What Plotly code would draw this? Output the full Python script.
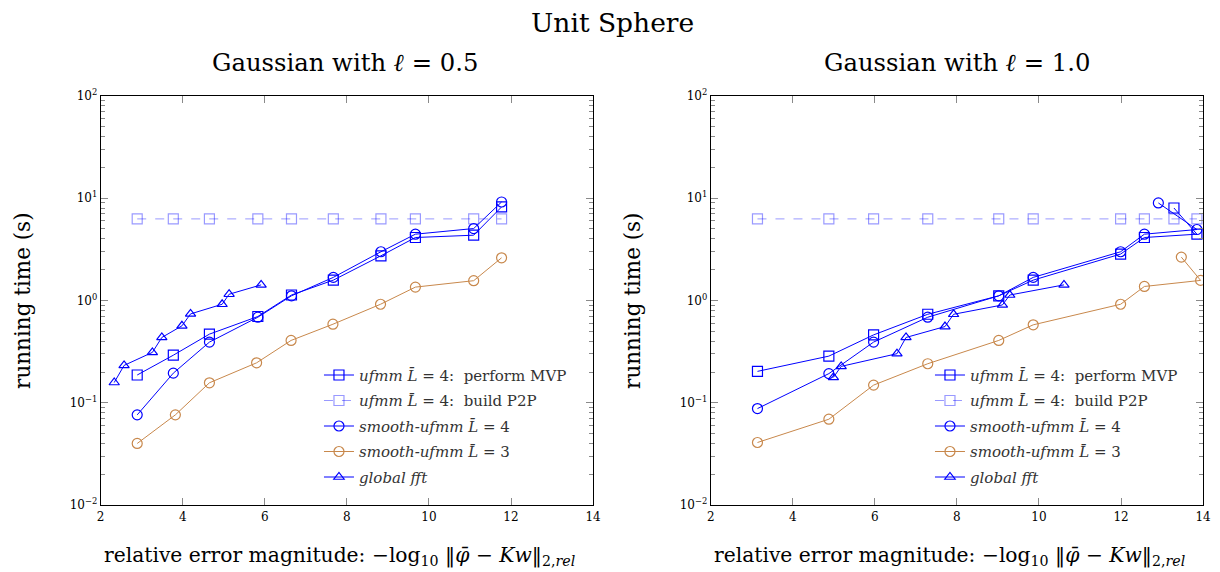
import plotly.graph_objects as go

# ---------------- data ----------------
# Left panel: Gaussian with l = 0.5
L_mvp_x = [2.89, 3.77, 4.65, 5.83, 6.65, 7.67, 8.83, 9.67, 11.09, 11.77]
L_mvp_y = [0.187, 0.292, 0.469, 0.697, 1.13, 1.58, 2.73, 4.12, 4.34, 8.19]
L_p2p_x = [2.89, 3.77, 4.65, 5.83, 6.65, 7.67, 8.83, 9.67, 11.09, 11.77]
L_p2p_y = [6.26, 6.26, 6.26, 6.26, 6.26, 6.26, 6.26, 6.26, 6.26, 6.26]
L_s4_x = [2.89, 3.77, 4.65, 5.83, 6.65, 7.67, 8.83, 9.67, 11.09, 11.77]
L_s4_y = [0.0763, 0.195, 0.392, 0.686, 1.11, 1.68, 2.99, 4.44, 5.04, 9.16]
L_s3_x = [2.89, 3.82, 4.65, 5.80, 6.64, 7.66, 8.82, 9.67, 11.09, 11.77]
L_s3_y = [0.0401, 0.0763, 0.157, 0.246, 0.407, 0.586, 0.918, 1.35, 1.56, 2.61]
L_fft_x = [2.33, 2.57, 3.26, 3.49, 3.98, 4.19, 4.96, 5.13, 5.91]
L_fft_y = [0.158, 0.232, 0.311, 0.435, 0.565, 0.739, 0.918, 1.15, 1.42]

# Right panel: Gaussian with l = 1.0
R_mvp_x = [3.14, 4.88, 5.97, 7.29, 9.02, 9.86, 11.99, 12.57, 13.85, 13.29]
R_mvp_y = [0.203, 0.286, 0.461, 0.733, 1.11, 1.58, 2.84, 4.12, 4.44, 8.0]
R_p2p_x = [3.14, 4.88, 5.97, 7.29, 9.02, 9.86, 11.99, 12.57, 13.29, 13.85]
R_p2p_y = [6.26, 6.26, 6.26, 6.26, 6.26, 6.26, 6.26, 6.26, 6.26, 6.26]
R_s4_x = [3.14, 4.88, 5.97, 7.29, 9.02, 9.86, 11.99, 12.57, 13.85, 12.91]
R_s4_y = [0.0879, 0.193, 0.392, 0.686, 1.11, 1.68, 2.99, 4.44, 4.93, 8.96]
R_s3_x = [3.14, 4.88, 5.97, 7.29, 9.02, 9.86, 11.99, 12.57, 13.94, 13.47]
R_s3_y = [0.041, 0.0692, 0.149, 0.241, 0.407, 0.578, 0.918, 1.37, 1.57, 2.65]
R_fft_x = [4.99, 5.18, 6.54, 6.76, 7.71, 7.92, 9.11, 9.29, 10.61]
R_fft_y = [0.177, 0.227, 0.302, 0.435, 0.556, 0.733, 0.904, 1.13, 1.42]

series_names = [
    "<i>ufmm</i> <i>L̄</i> = 4:  perform MVP",
    "<i>ufmm</i> <i>L̄</i> = 4:  build P2P",
    "<i>smooth-ufmm</i> <i>L̄</i> = 4",
    "<i>smooth-ufmm</i> <i>L̄</i> = 3",
    "<i>global fft</i>",
]
y_tickvals = [0.01, 0.1, 1, 10, 100]
y_ticktext = ["10<sup>−2</sup>", "10<sup>−1</sup>", "10<sup>0</sup>", "10<sup>1</sup>", "10<sup>2</sup>"]
y_minorvals = [m * 10.0 ** e for e in (-2, -1, 0, 1) for m in range(2, 10)]
x_tickvals = [2, 4, 6, 8, 10, 12, 14]

# ---------------- style ----------------
BLUE = "#0000ff"
LIGHT = "rgba(0,0,255,0.4)"
ORANGE = "#c8884c"
FONT = "DejaVu Serif"

styles = [
    dict(color=BLUE, dash="solid", symbol="square-open", size=10),
    dict(color=LIGHT, dash="dash", symbol="square-open", size=10),
    dict(color=BLUE, dash="solid", symbol="circle-open", size=10),
    dict(color=ORANGE, dash="solid", symbol="circle-open", size=10),
    dict(color=BLUE, dash="solid", symbol="triangle-up-open", size=9),
]

panels = [
    ("x", "y", "legend", [(L_mvp_x, L_mvp_y), (L_p2p_x, L_p2p_y), (L_s4_x, L_s4_y), (L_s3_x, L_s3_y), (L_fft_x, L_fft_y)]),
    ("x2", "y2", "legend2", [(R_mvp_x, R_mvp_y), (R_p2p_x, R_p2p_y), (R_s4_x, R_s4_y), (R_s3_x, R_s3_y), (R_fft_x, R_fft_y)]),
]

fig = go.Figure()
for xa, ya, lg, data in panels:
    for i, ((xs, ys), st, nm) in enumerate(zip(data, styles, series_names)):
        fig.add_trace(go.Scatter(
            x=xs, y=ys, xaxis=xa, yaxis=ya, name=nm, legend=lg,
            legendgroup=f"{lg}_{i}",
            mode="lines+markers",
            line=dict(color=st["color"], width=1, dash=st["dash"]),
            marker=dict(symbol=st["symbol"], size=st["size"], color=st["color"],
                        line=dict(color=st["color"], width=1.2)),
        ))

# mapping from target picture pixels to paper fractions (calibrated to the renderer)
W = 1220.0
H = 572.0
AX, BX = 3.0, 0.9934
AY, BY = 8.0, 0.9755

def px(X):
    return ((X - AX) / BX) / W

def py(Y):
    return 1 - ((Y - AY) / BY) / H

dom_left = [px(100), px(594)]
dom_right = [px(712), px(1206)]
dom_y = [py(506), py(95)]

def xaxis(dom, anchor):
    return dict(domain=dom, anchor=anchor, range=[2, 14], tickvals=x_tickvals,
                ticks="inside", ticklen=7, tickcolor="#8a8a8a", mirror="allticks",
                showline=True, linecolor="black", linewidth=1, showgrid=False, zeroline=False,
                tickfont=dict(family=FONT, size=12, color="black"))

def yaxis(anchor):
    return dict(domain=dom_y, anchor=anchor, type="log", range=[-2, 2],
                tickvals=y_tickvals, ticktext=y_ticktext,
                ticks="inside", ticklen=7, tickcolor="#8a8a8a", mirror="allticks",
                minor=dict(ticks="inside", ticklen=4, tickcolor="#8a8a8a",
                           tickmode="array", tickvals=y_minorvals, showgrid=False),
                showline=True, linecolor="black", linewidth=1, showgrid=False, zeroline=False,
                tickfont=dict(family=FONT, size=12, color="black"))

leg_common = dict(bgcolor="rgba(0,0,0,0)", borderwidth=0, tracegroupgap=3,
                  font=dict(family=FONT, size=15, color="#333333"),
                  xanchor="left", yanchor="top")

fig.update_layout(
    width=1220, height=572,
    margin=dict(l=0, r=0, t=0, b=0),
    paper_bgcolor="white", plot_bgcolor="white",
    xaxis=xaxis(dom_left, "y"),
    yaxis=yaxis("x"),
    xaxis2=xaxis(dom_right, "y2"),
    yaxis2=yaxis("x2"),
    legend=dict(x=px(319), y=py(359), **leg_common),
    legend2=dict(x=px(932), y=py(359), **leg_common),
    font=dict(family=FONT, color="black"),
)

xlabel = "relative error magnitude: −log<sub>10</sub> ‖<i>φ̄</i> − <i>Kw</i>‖<sub>2,<i>rel</i></sub>"
annots = [
    dict(text="Unit Sphere", x=px(613), y=py(22), size=26.5),
    dict(text="Gaussian with <i>ℓ</i> = 0.5", x=px(345), y=py(62), size=24.3),
    dict(text="Gaussian with <i>ℓ</i> = 1.0", x=px(959), y=py(62), size=24.3),
    dict(text=xlabel, x=px(340), y=py(557), size=20.3),
    dict(text=xlabel, x=px(952), y=py(557), size=20.3),
]
for a in annots:
    fig.add_annotation(text=a["text"], x=a["x"], y=a["y"], xref="paper", yref="paper",
                       showarrow=False, xanchor="center", yanchor="middle",
                       font=dict(family=FONT, size=a["size"], color="black"))
for xc in [22, 634]:
    fig.add_annotation(text="running time (s)", x=px(xc), y=py(301), xref="paper", yref="paper",
                       showarrow=False, textangle=-90, xanchor="center", yanchor="middle",
                       font=dict(family=FONT, size=21.5, color="black"))

fig.write_html("out.html", config={"displayModeBar": False},
               post_script="document.body.style.margin='0px';document.body.style.overflow='hidden';")
